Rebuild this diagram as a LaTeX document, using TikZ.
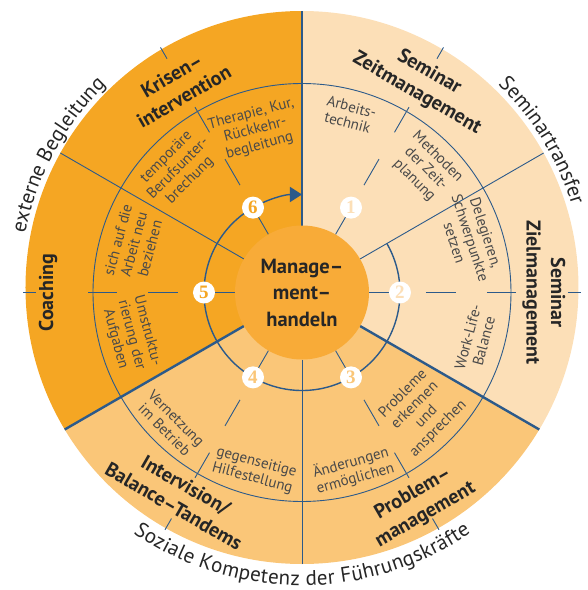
\documentclass[tikz,border=0pt]{standalone}
\usepackage{fontspec}
\setmainfont{PT Sans}
\newfontfamily\numfont{Liberation Serif}
\usetikzlibrary{arrows.meta,decorations.text}
\definecolor{light}{HTML}{FCDFB7}
\definecolor{mid}{HTML}{FAC678}
\definecolor{dark}{HTML}{F5A623}
\definecolor{ctr}{HTML}{F8AB38}
\definecolor{bl}{HTML}{2C5A8A}
\definecolor{ttl}{HTML}{262626}
\definecolor{itm}{HTML}{4A4A4A}
\begin{document}
\begin{tikzpicture}[x=1pt,y=1pt,
  thinl/.style={draw=bl,line width=0.9pt},
  thickl/.style={draw=bl,line width=2.4pt},
  title/.style={text=ttl,font=\fontsize{20}{24.5}\selectfont\bfseries,align=center,inner sep=0pt},
  item/.style={text=itm,font=\fontsize{15}{16.5}\selectfont,align=center,inner sep=0pt},
  numc/.style={circle,fill=white,minimum size=22pt,inner sep=0pt,font=\numfont\bfseries\fontsize{19}{19}\selectfont},
  curvtext/.style={decorate,decoration={text along path,text align={fit to path},text={#1}}}
]
\useasboundingbox (-302,-297.5) rectangle (286,292.5);
\coordinate (O) at (0,5);
% sector fills and radial lines
\begin{scope}
\clip (O) circle (276.5pt);
\fill[light] (0,0) -- (90:400pt) -- (30:400pt) -- (-30:400pt) -- cycle;
\fill[mid] (0,0) -- (-30:400pt) -- (-90:400pt) -- (-150:400pt) -- cycle;
\fill[dark] (0,0) -- (-150:400pt) -- (180:400pt) -- (135:400pt) -- (90:400pt) -- cycle;
\draw[thickl] (90:67pt) -- (90:300pt);
\draw[thickl] (-30:67pt) -- (-30:300pt);
\draw[thickl] (210:67pt) -- (210:300pt);
\draw[thinl] (30:67pt) -- (30:300pt);
\draw[thinl] (150:67pt) -- (150:300pt);
\draw[thinl] (270:67pt) -- (270:300pt);
\end{scope}
\draw[thinl] (0,0) circle (209pt);
% radial ticks
\foreach \a/\s/\e in {0/266/279,60/270/283,120/270/283,180/266/279,240/261/274,300/261/274}{
  \draw[thinl] (\a:67pt) -- (\a:87pt);
  \draw[thinl] (\a:124pt) -- (\a:154pt);
  \draw[thinl] (\a:185pt) -- (\a:214pt);
  \draw[thinl] (\a:\s pt) -- (\a:\e pt);
}
% ring arc with arrow
\draw[bl,line width=1.4pt,-{Triangle[length=12pt,width=15pt]}] (30:98pt) arc[start angle=30,end angle=-270,radius=98pt];
% centre
\node[circle,fill=ctr,minimum size=134pt,inner sep=0pt,text=ttl,align=center,
  font=\fontsize{20.5}{26.5}\selectfont\bfseries] (M) at (0,0) {Manage–\\ment–\\handeln};
% numbers
\foreach \a/\n/\c in {60/1/light,0/2/light,-60/3/mid,-120/4/mid,180/5/dark,120/6/dark}
  \node[numc,text=\c] (n\n) at (\a:98pt) {\n};
% titles
\node[title,rotate=-30] (t1) at (60:242pt) {Seminar\\Zeitmanagement};
\node[title,rotate=-90] (t2) at (0:242pt) {Seminar\\Zielmanagement};
\node[title,rotate=30] (t3) at (-61:242pt) {Problem–\\management};
\node[title,rotate=-30] (t4) at (239:237pt) {Intervision/\\Balance–Tandems};
\node[title,rotate=90] (t5) at (180:254pt) {Coaching};
\node[title,rotate=30] (t6) at (121:241pt) {Krisen–\\intervention};
% items
\node[item,rotate=-15] (i1a) at (75:184pt) {Arbeits-\\technik};
\node[item,rotate=-45] (i1b) at (45:175pt) {Methoden\\der Zeit-\\planung};
\node[item,rotate=-72] (i2a) at (18:177pt) {Delegieren,\\Schwerpunkte\\setzen};
\node[item,rotate=75] (i2b) at (-15:180pt) {Work-Life-\\Balance};
\node[item,rotate=45] (i3a) at (-45:168pt) {Probleme\\erkennen\\und\\ansprechen};
\node[item,rotate=16] (i3b) at (-74:185pt) {Änderungen\\ermöglichen};
\node[item,rotate=-45] (i4a) at (225:186pt) {Vernetzung\\im Betrieb};
\node[item,rotate=-15] (i4b) at (255:184pt) {gegenseitige\\Hilfestellung};
\node[item,rotate=-75] (i5a) at (194:176pt) {Umstruktu-\\rierung der\\Aufgaben};
\node[item,rotate=75] (i5b) at (164:175pt) {sich auf die\\Arbeit neu\\beziehen};
\node[item,rotate=45] (i6a) at (135:175pt) {temporäre\\Berufsunter-\\brechung};
\node[item,rotate=15] (i6b) at (106:169pt) {Therapie, Kur,\\Rückkehr-\\begleitung};
% curved outer texts
\path[curvtext={|\fontsize{21}{21}\selectfont\color{ttl}|externe Begleitung}]
  ([shift={(0,5)}]169:282pt) arc[start angle=169,end angle=134,radius=282pt];
\path[curvtext={|\fontsize{21}{21}\selectfont\color{ttl}|Seminartransfer}]
  ([shift={(0,5)}]46:282pt) arc[start angle=46,end angle=17,radius=282pt];
\path[curvtext={|\fontsize{21}{21}\selectfont\color{ttl}|Soziale Kompetenz der Führungskräfte}]
  ([shift={(0,5)}]235.5:298pt) arc[start angle=235.5,end angle=304.5,radius=298pt];
\end{tikzpicture}
\end{document}
